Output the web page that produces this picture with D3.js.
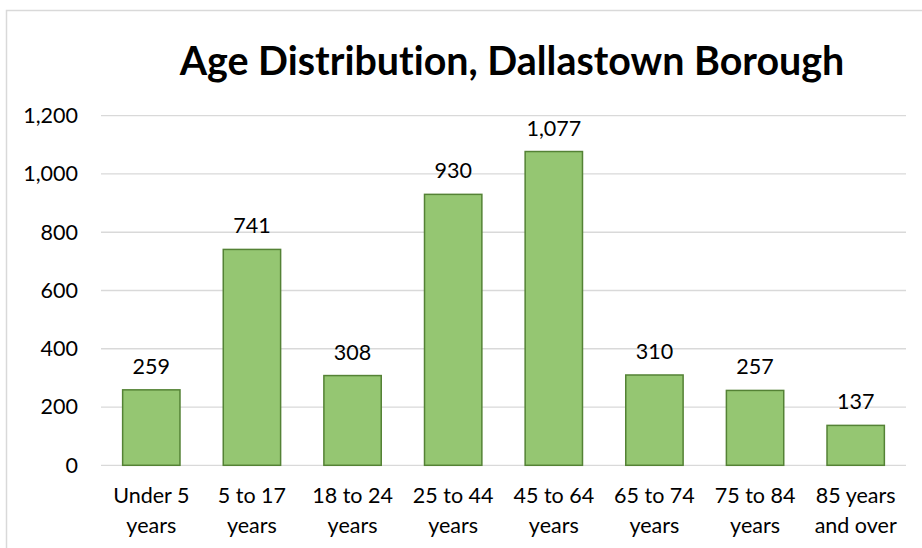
<!DOCTYPE html>
<html>
<head>
<meta charset="utf-8">
<script src="https://cdn.jsdelivr.net/npm/d3@7"></script>
<style>
html,body{margin:0;padding:0;background:#fff;}
svg{display:block;}
text{font-family:Lato,"Open Sans",sans-serif;fill:#000;font-variant-ligatures:none;}
</style>
</head>
<body>
<svg id="chart" width="922" height="548"></svg>
<script>
const title = "Age Distribution, Dallastown Borough";
const categories = [["Under 5","years"],["5 to 17","years"],["18 to 24","years"],["25 to 44","years"],["45 to 64","years"],["65 to 74","years"],["75 to 84","years"],["85 years","and over"]];
const values = [259, 741, 308, 930, 1077, 310, 257, 137];
const yTicks = [0, 200, 400, 600, 800, 1000, 1200];

const svg = d3.select("#chart");
const plot = {left: 101, right: 906, top: 115.7, bottom: 465.3};
const fs = 21.5;

// outer border
svg.append("rect").attr("x", 6.5).attr("y", 10.5).attr("width", 930).attr("height", 560)
  .attr("fill", "none").attr("stroke", "#d9d9d9").attr("stroke-width", 1.5);

const x = d3.scaleBand().domain(d3.range(values.length)).range([plot.left, plot.right]).paddingInner(0.43).paddingOuter(0.215);
const y = d3.scaleLinear().domain([0, 1200]).range([plot.bottom, plot.top]);

// gridlines
svg.append("g").selectAll("line").data(yTicks).join("line")
  .attr("x1", plot.left).attr("x2", plot.right)
  .attr("y1", d => y(d)).attr("y2", d => y(d))
  .attr("stroke", "#d9d9d9").attr("stroke-width", 1.3);

// y axis labels
const yAxis = d3.axisLeft(y).tickValues(yTicks).tickFormat(d3.format(",")).tickSize(0).tickPadding(0);
const yg = svg.append("g").attr("transform", `translate(78,0)`).call(yAxis);
yg.select(".domain").remove();
yg.selectAll("text").attr("font-size", fs).attr("fill", "#000").attr("font-family", "Lato, sans-serif");

// bars
svg.append("g").selectAll("rect").data(values).join("rect")
  .attr("x", (d, i) => x(i)).attr("width", x.bandwidth())
  .attr("y", d => y(d)).attr("height", d => y(0) - y(d))
  .attr("fill", "#95c672").attr("stroke", "#548235").attr("stroke-width", 1.5);

// data labels
svg.append("g").selectAll("text").data(values).join("text")
  .attr("x", (d, i) => x(i) + x.bandwidth() / 2).attr("y", d => y(d) - 16)
  .attr("text-anchor", "middle").attr("font-size", fs)
  .text(d => d3.format(",")(d));

// x labels
const xl = svg.append("g").selectAll("text").data(categories).join("text")
  .attr("x", (d, i) => x(i) + x.bandwidth() / 2).attr("y", 503)
  .attr("text-anchor", "middle").attr("font-size", fs);
xl.append("tspan").attr("x", (d, i) => x(i) + x.bandwidth() / 2).attr("dy", 0).text(d => d[0]);
xl.append("tspan").attr("x", (d, i) => x(i) + x.bandwidth() / 2).attr("dy", 30).text(d => d[1]);

// title
const t = svg.append("text").attr("x", 512).attr("y", 75).attr("text-anchor", "middle")
  .attr("font-size", 36).attr("font-weight", "bold").text(title);
const len = t.node().getComputedTextLength();
t.attr("font-size", 36 * 665 / len);
</script>
</body>
</html>
